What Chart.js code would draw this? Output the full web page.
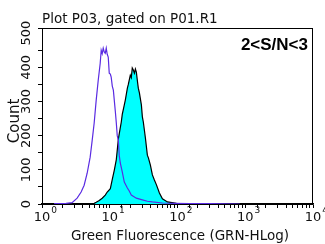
<!DOCTYPE html>
<html>
<head>
<meta charset="utf-8">
<script src="https://cdn.jsdelivr.net/npm/chart.js@4"></script>
<style>
  html, body { margin: 0; padding: 0; background: #fff; }
  #wrap { width: 325px; height: 244px; }
</style>
</head>
<body>
<div id="wrap"><canvas id="histo" width="325" height="244"></canvas></div>
<script>
// Flow histogram: unstained (purple line) vs stained (cyan fill)

// purple outline - channel value / count
const purpleX = [1.51, 1.91, 2.27, 2.78, 3.30, 3.78, 4.19, 4.64, 5.14, 5.51, 5.89, 6.31, 6.76, 7.23, 7.48, 7.74, 8.01, 8.29, 8.58, 8.88, 9.18, 9.50, 9.83, 10.2, 10.5, 10.9, 11.3, 12.1, 12.5, 12.9, 13.4, 13.8, 14.3, 15.3, 16.4, 18.2, 19.4, 20.8, 24.7, 30.3, 35.9, 42.6, 59.9, 90.3, 151, 298, 829];
const purpleY = [1, 1, 2, 4, 17, 35, 55, 90, 137, 187, 237, 304, 362, 412, 450, 440, 456, 445, 441, 456, 438, 430, 383, 380, 371, 345, 333, 270, 237, 200, 187, 143, 120, 94, 64, 47, 38, 26, 17, 12, 8, 6, 3, 2, 1, 1, 0];

// cyan filled histogram
const cyanX = [4.97, 5.89, 6.31, 6.99, 7.74, 8.58, 9.18, 10.2, 10.9, 11.7, 12.5, 13.4, 13.8, 14.8, 15.3, 16.4, 17.0, 18.2, 18.8, 20.1, 20.8, 21.5, 22.3, 23.1, 23.9, 24.7, 25.6, 26.4, 27.4, 29.3, 30.3, 31.3, 33.6, 35.9, 37.2, 39.8, 42.6, 45.6, 48.9, 54.1, 59.9, 71.1, 96.6, 151];
const cyanY = [0, 2, 5, 10, 17, 26, 35, 45, 72, 100, 130, 190, 205, 240, 262, 290, 305, 339, 350, 377, 370, 398, 392, 383, 395, 386, 360, 339, 325, 290, 255, 240, 193, 143, 135, 114, 85, 70, 56, 32, 15, 6, 2, 0];

const xTickExp = [0, 1, 2, 3, 4];
const yTickValues = [0, 100, 200, 300, 400, 500];

const plotTitle = 'Plot P03, gated on P01.R1';
const xTitle = 'Green Fluorescence (GRN-HLog)';
const yTitle = 'Count';
const snLabel = '2<S/N<3';

function toPoints(xs, ys) {
    return xs.map((x, i) => ({ x: x, y: ys[i] }));
}

// draws frame, tick labels and titles
const decorPlugin = {
    id: 'decor',
    afterDraw(chart) {
        const ctx = chart.ctx;
        const area = chart.chartArea;
        const xs = chart.scales.x;
        const ys = chart.scales.y;
        ctx.save();

        // box round the plot
        ctx.strokeStyle = '#000';
        ctx.lineWidth = 1;
        ctx.strokeRect(area.left + 0.5, area.top + 0.5, area.right - area.left - 1, area.bottom - area.top);

        ctx.fillStyle = '#111';

        // x tick labels 10^n
        xTickExp.forEach(e => {
            const px = xs.getPixelForValue(Math.pow(10, e));
            ctx.font = '13px "DejaVu Sans"';
            ctx.textAlign = 'center';
            ctx.textBaseline = 'alphabetic';
            ctx.fillText('10', px, 221);
            const w = ctx.measureText('10').width;
            ctx.font = '9px "DejaVu Sans"';
            ctx.textAlign = 'left';
            ctx.fillText(String(e), px + w / 2 + 1, 213);
        });

        // y tick labels, rotated
        ctx.font = '13px "DejaVu Sans"';
        ctx.textAlign = 'center';
        ctx.textBaseline = 'middle';
        yTickValues.forEach(v => {
            const py = ys.getPixelForValue(v);
            ctx.save();
            ctx.translate(27, py);
            ctx.rotate(-Math.PI / 2);
            ctx.fillText(String(v), 0, 0);
            ctx.restore();
        });

        // titles
        ctx.font = '13.5px "DejaVu Sans"';
        ctx.textAlign = 'left';
        ctx.textBaseline = 'alphabetic';
        ctx.fillText(plotTitle, 42, 23);

        ctx.textAlign = 'center';
        ctx.fillText(xTitle, 180, 240);

        ctx.save();
        ctx.font = '15px "DejaVu Sans"';
        ctx.translate(15, 121);
        ctx.rotate(-Math.PI / 2);
        ctx.textBaseline = 'middle';
        ctx.fillText(yTitle, 0, 0);
        ctx.restore();

        ctx.fillStyle = '#000';
        ctx.font = 'bold 17px "Liberation Sans"';
        ctx.textAlign = 'right';
        ctx.fillText(snLabel, 308, 50);

        ctx.restore();
    }
};

new Chart(document.getElementById('histo'), {
    type: 'line',
    data: {
        datasets: [{
            label: 'unstained',
            data: toPoints(purpleX, purpleY),
            borderColor: '#5a2be2',
            borderWidth: 1.2,
            pointRadius: 0,
            tension: 0,
            fill: false
        }, {
            label: 'stained',
            data: toPoints(cyanX, cyanY),
            borderColor: '#000000',
            backgroundColor: '#00ffff',
            borderWidth: 1.2,
            pointRadius: 0,
            tension: 0,
            fill: 'origin'
        }]
    },
    options: {
        responsive: false,
        animation: false,
        events: [],
        layout: { padding: { top: 28, right: 12, left: 0, bottom: 0 } },
        plugins: {
            legend: { display: false },
            tooltip: { enabled: false }
        },
        scales: {
            x: {
                type: 'logarithmic',
                min: 1,
                max: 10000,
                afterFit: s => { s.height = 40; },
                border: { display: true, color: '#000', width: 1.5 },
                grid: { drawOnChartArea: false, drawTicks: true, tickLength: 4, color: '#000' },
                ticks: { display: false, autoSkip: false }
            },
            y: {
                type: 'linear',
                min: 0,
                max: 515,
                afterFit: s => { s.width = 42; },
                border: { display: true, color: '#000', width: 1 },
                grid: { drawOnChartArea: false, drawTicks: true, tickLength: 4, color: '#000' },
                ticks: { display: false, stepSize: 50, autoSkip: false }
            }
        }
    },
    plugins: [decorPlugin]
});
</script>
</body>
</html>
